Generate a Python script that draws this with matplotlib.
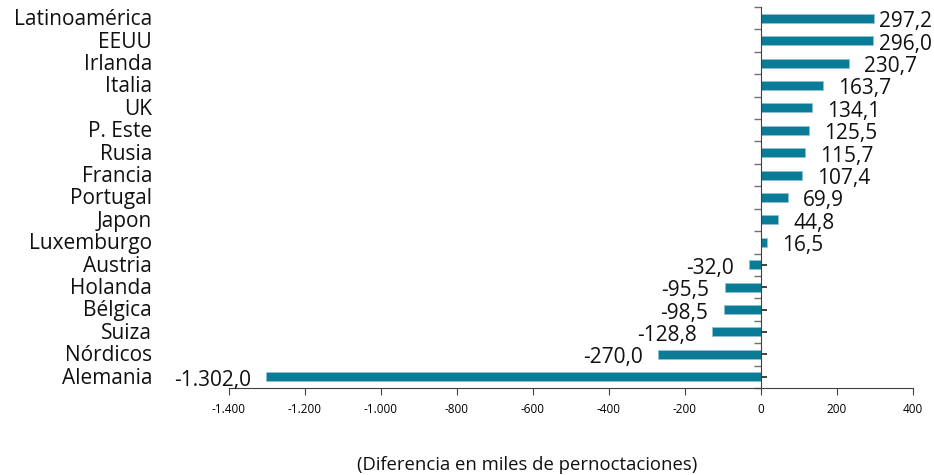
import numpy as np
import matplotlib.pyplot as plt

paises = ["Latinoamérica", "EEUU", "Irlanda", "Italia", "UK", "P. Este", "Rusia",
          "Francia", "Portugal", "Japon", "Luxemburgo", "Austria", "Holanda",
          "Bélgica", "Suiza", "Nórdicos", "Alemania"]
valores = [297.2, 296.0, 230.7, 163.7, 134.1, 125.5, 115.7, 107.4, 69.9, 44.8,
           16.5, -32.0, -95.5, -98.5, -128.8, -270.0, -1302.0]
xticks = [-1400, -1200, -1000, -800, -600, -400, -200, 0, 200, 400]


def fmt_es(v, dec=1):
    s = f"{v:,.{dec}f}"
    return s.replace(",", "X").replace(".", ",").replace("X", ".")


plt.rcParams['font.family'] = ['Open Sans', 'DejaVu Sans']
color = "#0A7C97"

fig = plt.figure(figsize=(9.34, 4.75), dpi=100)
ax = fig.add_axes([229/934, 1 - 388/475, (913 - 229)/934, (388 - 7)/475])

n = len(paises)
y = np.arange(n)[::-1]
ax.barh(y, valores, height=0.4, color=color, edgecolor="#8fc3d3", linewidth=0.5, zorder=2)

ax.set_xlim(-1400, 400)
ax.set_ylim(-0.5, n - 0.5)

for s in ["top", "right"]:
    ax.spines[s].set_visible(False)
ax.spines["left"].set_position(("data", 0))
ax.spines["left"].set_color("#404040")
ax.spines["bottom"].set_color("#404040")
ax.spines["left"].set_zorder(3)

ax.set_yticks(np.arange(n + 1) - 0.5)
ax.set_yticklabels([])
ax.set_yticks(y, minor=True)
ax.tick_params(axis="y", which="major", direction="out", length=5, color="#707070", width=1)
ax.tick_params(axis="y", which="minor", direction="in", length=4, color="#202020", width=1.2)

ax.set_xticks(xticks)
ax.set_xticklabels([fmt_es(v, 0) for v in xticks], fontsize=8.5)
ax.tick_params(axis="x", direction="out", length=5, color="#404040", pad=6)

# category labels at the left
for yi, p in zip(y, paises):
    ax.annotate(p, (-0.1125, yi), xycoords=ax.get_yaxis_transform(), xytext=(0, -1),
                textcoords="offset points", ha="right", va="center",
                fontsize=15, color="#111111", annotation_clip=False)

labels = []
for yi, v in zip(y, valores):
    off = 11 if v > 0 else -11
    t = ax.annotate(fmt_es(v), (v, yi), xytext=(off, -2.5), textcoords="offset points",
                    ha="left" if v > 0 else "right", va="center", fontsize=15,
                    color="#111111", annotation_clip=False)
    labels.append(t)

fig.text(527/934, 1 - 465/475, "(Diferencia en miles de pernoctaciones)",
         ha="center", va="center", fontsize=13.3, color="#111111")

# keep labels inside the figure on the right side
fig.canvas.draw()
r = fig.canvas.get_renderer()
for t in labels:
    bb = t.get_window_extent(r)
    over = bb.x1 - (fig.bbox.width - 2)
    if over > 0:
        x0, y0 = t.xyann
        t.xyann = (x0 - over * 72 / fig.dpi, y0)

fig.savefig("out.png", dpi=100)
